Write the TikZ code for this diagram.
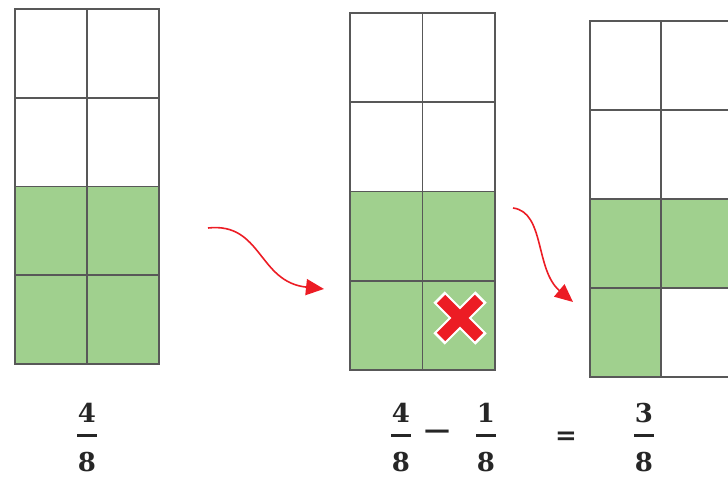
\documentclass[tikz,border=0pt]{standalone}
\usepackage{fontspec}
\newfontfamily\fracfont{DejaVu Serif}
\usetikzlibrary{arrows.meta, positioning}

\definecolor{cellgreen}{RGB}{160,208,142}
\definecolor{gridline}{RGB}{88,88,88}
\definecolor{markred}{RGB}{236,28,36}

\begin{document}
\begin{tikzpicture}[
  x=1pt, y=-1pt,
  cell/.style={rectangle, draw=gridline, line width=1.8pt, anchor=north west,
    inner sep=0pt, outer sep=0pt},
  digit/.style={font=\fracfont\bfseries\fontsize{26}{28}\selectfont,
    text=black!85, inner sep=0pt},
  fbar/.style={rectangle, fill=black!85, minimum width=20pt,
    minimum height=3pt, inner sep=0pt},
  bendarr/.style={draw=markred, line width=1.6pt,
    -{Triangle[length=18pt, width=16pt]}},
  xback/.style={white, line width=16pt},
  xfront/.style={markred, line width=12pt},
]
\clip (0,0) rectangle (728,478);

% Grid 1: 4/8 shaded
\foreach \r/\fa/\fb in {0/white/white, 1/white/white, 2/cellgreen/cellgreen, 3/cellgreen/cellgreen} {
  \node[cell, fill=\fa, minimum width=72pt, minimum height=88.75pt]
    (a\r0) at (15, {9+88.75*\r}) {};
  \node[cell, fill=\fb, minimum width=72pt, minimum height=88.75pt]
    (a\r1) at (87, {9+88.75*\r}) {};
}

% Grid 2: one eighth taken away
\foreach \r/\fa/\fb in {0/white/white, 1/white/white, 2/cellgreen/cellgreen, 3/cellgreen/cellgreen} {
  \node[cell, fill=\fa, minimum width=72.5pt, minimum height=89.25pt]
    (b\r0) at (350, {13+89.25*\r}) {};
  \node[cell, fill=\fb, minimum width=72.5pt, minimum height=89.25pt]
    (b\r1) at (422.5, {13+89.25*\r}) {};
}

% Grid 3: 3/8 left
\foreach \r/\fa/\fb in {0/white/white, 1/white/white, 2/cellgreen/cellgreen, 3/cellgreen/white} {
  \node[cell, fill=\fa, minimum width=71pt, minimum height=89pt]
    (c\r0) at (590, {21+89*\r}) {};
  \node[cell, fill=\fb, minimum width=71pt, minimum height=89pt]
    (c\r1) at (661, {21+89*\r}) {};
}

% Cross on the removed cell
\coordinate (cross) at (460,318);
\draw[xback] (cross) +(-21,-21) -- +(21,21);
\draw[xback] (cross) +(-21,21) -- +(21,-21);
\draw[xfront] (cross) +(-19,-19) -- +(19,19);
\draw[xfront] (cross) +(-19,19) -- +(19,-19);

% Curved arrows
\coordinate (s1) at (208,228);
\coordinate (e1) at (324,289);
\coordinate (s2) at (513,208);
\coordinate (e2) at (573,302);
\draw[bendarr] (s1) .. controls (262,222) and (258,282) .. (e1);
\draw[bendarr] (s2) .. controls (545,212) and (535,270) .. (e2);

% Fractions
\node[digit] (num1) at (87,413) {4};
\node[fbar] (bar1) at (87,435) {};
\node[digit] (den1) at (87,462) {8};

\node[digit] (num2) at (401,413) {4};
\node[fbar] (bar2) at (401,435) {};
\node[digit] (den2) at (401,462) {8};

\node[digit] (minus) at (437,434) {—};

\node[digit] (num3) at (486,413) {1};
\node[fbar] (bar3) at (486,435) {};
\node[digit] (den3) at (486,462) {8};

\node[digit] (equals) at (566,438) {=};

\node[digit] (num4) at (644,413) {3};
\node[fbar] (bar4) at (644,435) {};
\node[digit] (den4) at (644,462) {8};

\end{tikzpicture}
\end{document}
